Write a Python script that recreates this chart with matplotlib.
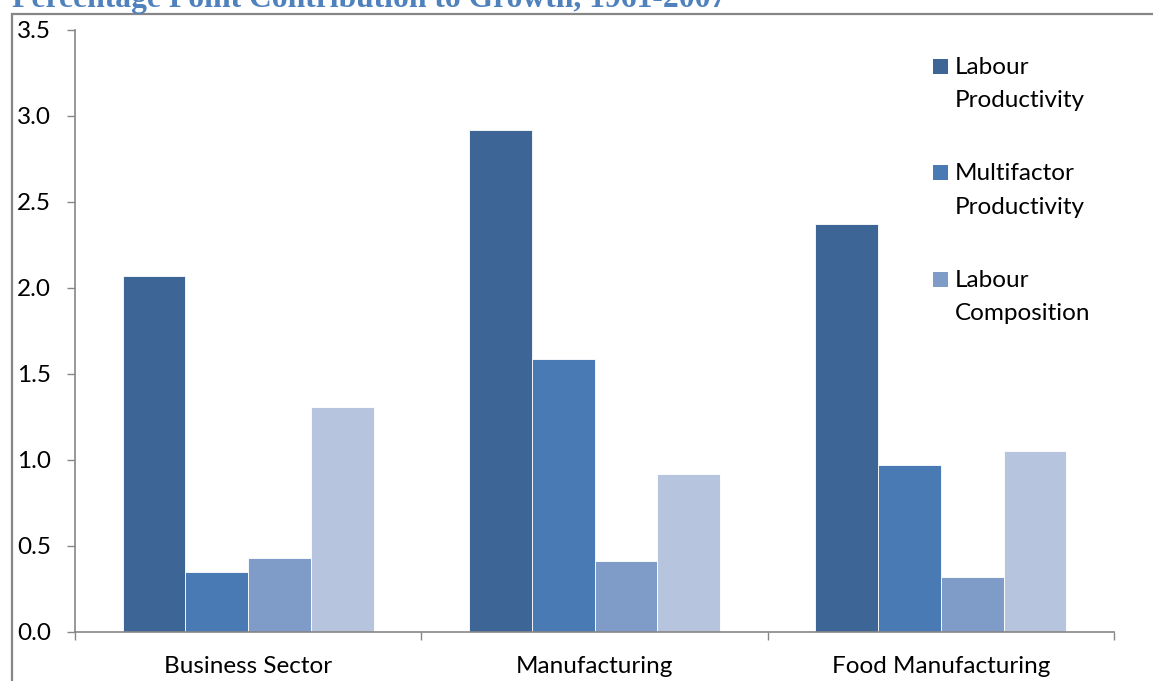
import matplotlib.pyplot as plt
import numpy as np
from matplotlib.patches import Rectangle

# contribution to growth, percentage points, 1961-2007
sectors = ["Business Sector", "Manufacturing", "Food Manufacturing"]
series_names = [("Labour", "Productivity"), ("Multifactor", "Productivity"),
                ("Labour", "Composition"), ("Capital", "Intensity")]
labour_productivity = [2.07, 2.92, 2.37]
multifactor_productivity = [0.35, 1.59, 0.97]
labour_composition = [0.43, 0.41, 0.32]
capital_intensity = [1.31, 0.92, 1.05]
yticks = [0.0, 0.5, 1.0, 1.5, 2.0, 2.5, 3.0, 3.5]

colors = ["#3D6696", "#4A7AB3", "#7F9CC8", "#B6C4DE"]
W, H = 1153, 681
FS = 17.5

plt.rcParams["font.family"] = ["Lato", "DejaVu Sans"]
fig = plt.figure(figsize=(W / 100, H / 100), dpi=100)
ax = fig.add_axes([75 / W, (H - 632) / H, 1039 / W, 602 / H])

values = [labour_productivity, multifactor_productivity,
          labour_composition, capital_intensity]
x = np.arange(len(sectors))
bw = 0.181
for i, vals in enumerate(values):
    ax.bar(x + (i - 1.5) * bw, vals, width=bw, color=colors[i],
           edgecolor="white", linewidth=0.6, zorder=2)

ax.set_xlim(-0.5, 2.5)
ax.set_ylim(0, 3.5)
ax.set_yticks(yticks)
ax.set_yticklabels([f"{v:.1f}" for v in yticks])
for lbl in ax.get_yticklabels():
    lbl.set_horizontalalignment("left")
ax.tick_params(axis="y", length=6, width=1, color="#868686",
               pad=35.8, labelsize=FS)

ax.set_xticks(x)
ax.set_xticklabels(sectors)
ax.set_xticks([-0.5, 0.5, 1.5, 2.5], minor=True)
ax.tick_params(axis="x", which="major", length=0, pad=17, labelsize=FS)
ax.tick_params(axis="x", which="minor", length=6, width=1, color="#868686")

for s in ["top", "right"]:
    ax.spines[s].set_visible(False)
for s in ["left", "bottom"]:
    ax.spines[s].set_color("#868686")
    ax.spines[s].set_linewidth(1.2)

# legend: only the first three series fit in the box
for i in range(3):
    base = 74 + i * 106.5
    fig.patches.append(Rectangle((933 / W, 1 - base / H), 15 / W, 15 / H,
                                 transform=fig.transFigure,
                                 facecolor=colors[i], edgecolor="none"))
    for j, line in enumerate(series_names[i]):
        fig.text(955 / W, 1 - (base + j * 33) / H, line, ha="left",
                 va="baseline", fontsize=FS)

# outer chart frame
fig.patches.append(Rectangle((12 / W, -0.1), 1.2, 1 - 13.5 / H + 0.1,
                             transform=fig.transFigure, fill=False,
                             edgecolor="#868686", linewidth=1.6))

fig.text(12 / W, 1 - 7 / H, "Percentage Point Contribution to Growth, 1961-2007",
         ha="left", va="baseline", fontsize=22.8, fontweight="bold",
         color="#4F81BD", family=["Liberation Serif", "DejaVu Serif"])

fig.savefig("out.png", dpi=100)
